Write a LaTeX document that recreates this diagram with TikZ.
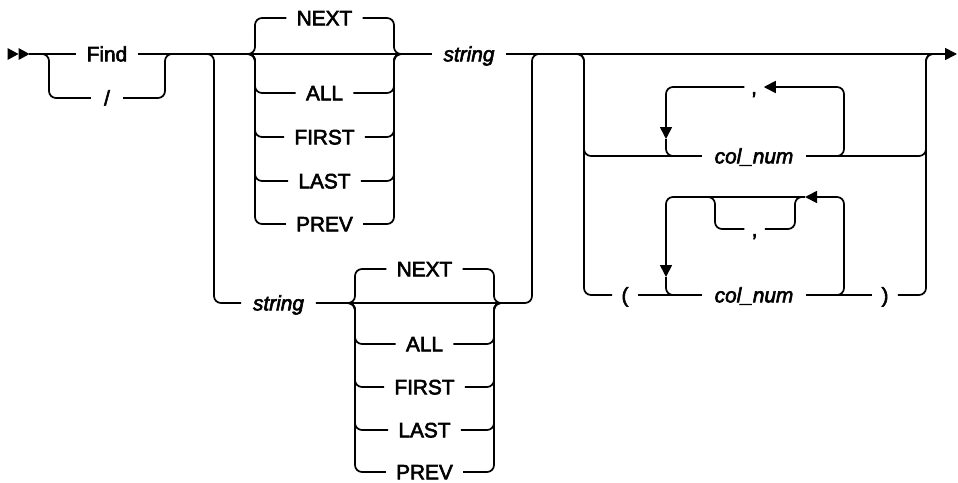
\documentclass[tikz,border=0pt]{standalone}
\usepackage{fontspec}
\setmainfont{Liberation Sans}[FakeBold=2.8]
\usetikzlibrary{arrows.meta}
\begin{document}
\begin{tikzpicture}[x=1pt,y=-1pt,
  line width=1.7pt,
  rnd/.style={rounded corners=7pt},
  arrowend/.style={-{Triangle[length=12pt,width=12pt]}},
  lbl/.style={inner xsep=9.5pt,inner ysep=0pt,text height=14.7pt,text depth=0pt,
    font=\fontsize{20.8}{22}\selectfont},
  ilbl/.style={lbl,inner xsep=11pt,font=\fontsize{20.8}{22}\selectfont\itshape}]
\useasboundingbox (0,0) rectangle (958,482);
% start marker
\fill (7.5,48) -- (18.5,54) -- (7.5,60) -- cycle;
\fill (18.5,48) -- (29.5,54) -- (18.5,60) -- cycle;
% coordinates
\coordinate (s0) at (29,54);
\coordinate (endc) at (957,54);
\coordinate (a1) at (41,54);  \coordinate (a2) at (49,54);
\coordinate (b2) at (165,54); \coordinate (b3) at (173,54);
\coordinate (c1) at (206,54); \coordinate (c2) at (214,54);
\coordinate (d2) at (532,54); \coordinate (d3) at (540,54);
\coordinate (tl0) at (247,54); \coordinate (tl1) at (255,54);
\coordinate (tr1) at (394,54); \coordinate (tr0) at (402,54);
\coordinate (bl0) at (347,303); \coordinate (bl1) at (355,303);
\coordinate (br1) at (494,303); \coordinate (br0) at (502,303);
\coordinate (d1) at (532,303);
\coordinate (e0) at (576,54); \coordinate (e1) at (584,54);
\coordinate (f1) at (926,54); \coordinate (f0) at (934,54);
\coordinate (g1) at (844,87); \coordinate (g3) at (666,139);
\coordinate (h1) at (844,197); \coordinate (h2) at (805,197); \coordinate (h3) at (666,277);
\coordinate (k0) at (707,197); \coordinate (k1) at (715,197);
\coordinate (k4) at (795,197); \coordinate (k5) at (803,197);
% labels
\node[lbl] (find) at (107,54) {Find};
\node[lbl,inner xsep=12.5pt] (slash) at (107,98) {/};
\node[lbl] (tnext) at (324.5,18) {NEXT};
\node[lbl] (tall) at (324.5,93) {ALL};
\node[lbl] (tfirst) at (324.5,137) {FIRST};
\node[lbl] (tlast) at (324.5,181) {LAST};
\node[lbl] (tprev) at (324.5,224) {PREV};
\node[ilbl] (str1) at (469,54) {string};
\node[ilbl] (str2) at (278.5,303) {string};
\node[lbl] (bnext) at (424.5,269) {NEXT};
\node[lbl] (ball) at (424.5,344) {ALL};
\node[lbl] (bfirst) at (424.5,387) {FIRST};
\node[lbl] (blast) at (424.5,430) {LAST};
\node[lbl] (bprev) at (424.5,472) {PREV};
\node[ilbl,inner xsep=12pt] (cn1) at (754,156) {col\_num};
\node[ilbl,inner xsep=12pt] (cn2) at (754,295) {col\_num};
\node[lbl,inner xsep=6pt] (cm1) at (754,87) {,};
\node[lbl,inner xsep=6.5pt] (cm2) at (754.5,229) {,};
\node[lbl,inner xsep=8.5pt] (lp) at (625,295) {(};
\node[lbl,inner xsep=8.5pt] (rp) at (885,295) {)};
% main line
\draw (s0) -- (find) -- (str1);
\draw[arrowend] (str1) -- (endc);
% Find / slash
\draw[rnd] (a1) -- (a2) |- (slash);
\draw[rnd] (slash) -| (b2) -- (b3);
% top choice block
\foreach \n in {tnext,tall,tfirst,tlast,tprev}{
  \draw[rnd] (tl0) -- (tl1) |- (\n) -| (tr1) -- (tr0);
}
% lower route
\draw[rnd] (c1) -- (c2) |- (str2);
\draw[rnd] (str2) -- (d1) -- (d2) -- (d3);
\foreach \n in {bnext,ball,bfirst,blast,bprev}{
  \draw[rnd] (bl0) -- (bl1) |- (\n) -| (br1) -- (br0);
}
% optional column block
\draw[rnd] (e0) -- (e1) |- (cn1) -| (f1) -- (f0);
\draw[rnd] (e0) -- (e1) |- (lp);
\draw (lp) -- (cn2) -- (rp);
\draw[rnd] (rp) -| (f1) -- (f0);
% repeat loop 1
\draw[rnd,arrowend] (cn1) -| (g1) -- (cm1);
\draw[rnd,arrowend] (cm1) -| (g3);
\draw[rnd] (g3) |- (cn1);
% repeat loop 2
\draw[rnd,arrowend] (cn2) -| (h1) -- (h2);
\draw[rnd,arrowend] (h2) -| (h3);
\draw[rnd] (h3) |- (cn2);
\draw[rnd] (k0) -- (k1) |- (cm2);
\draw[rnd] (cm2) -| (k4) -- (k5);
\end{tikzpicture}
\end{document}
